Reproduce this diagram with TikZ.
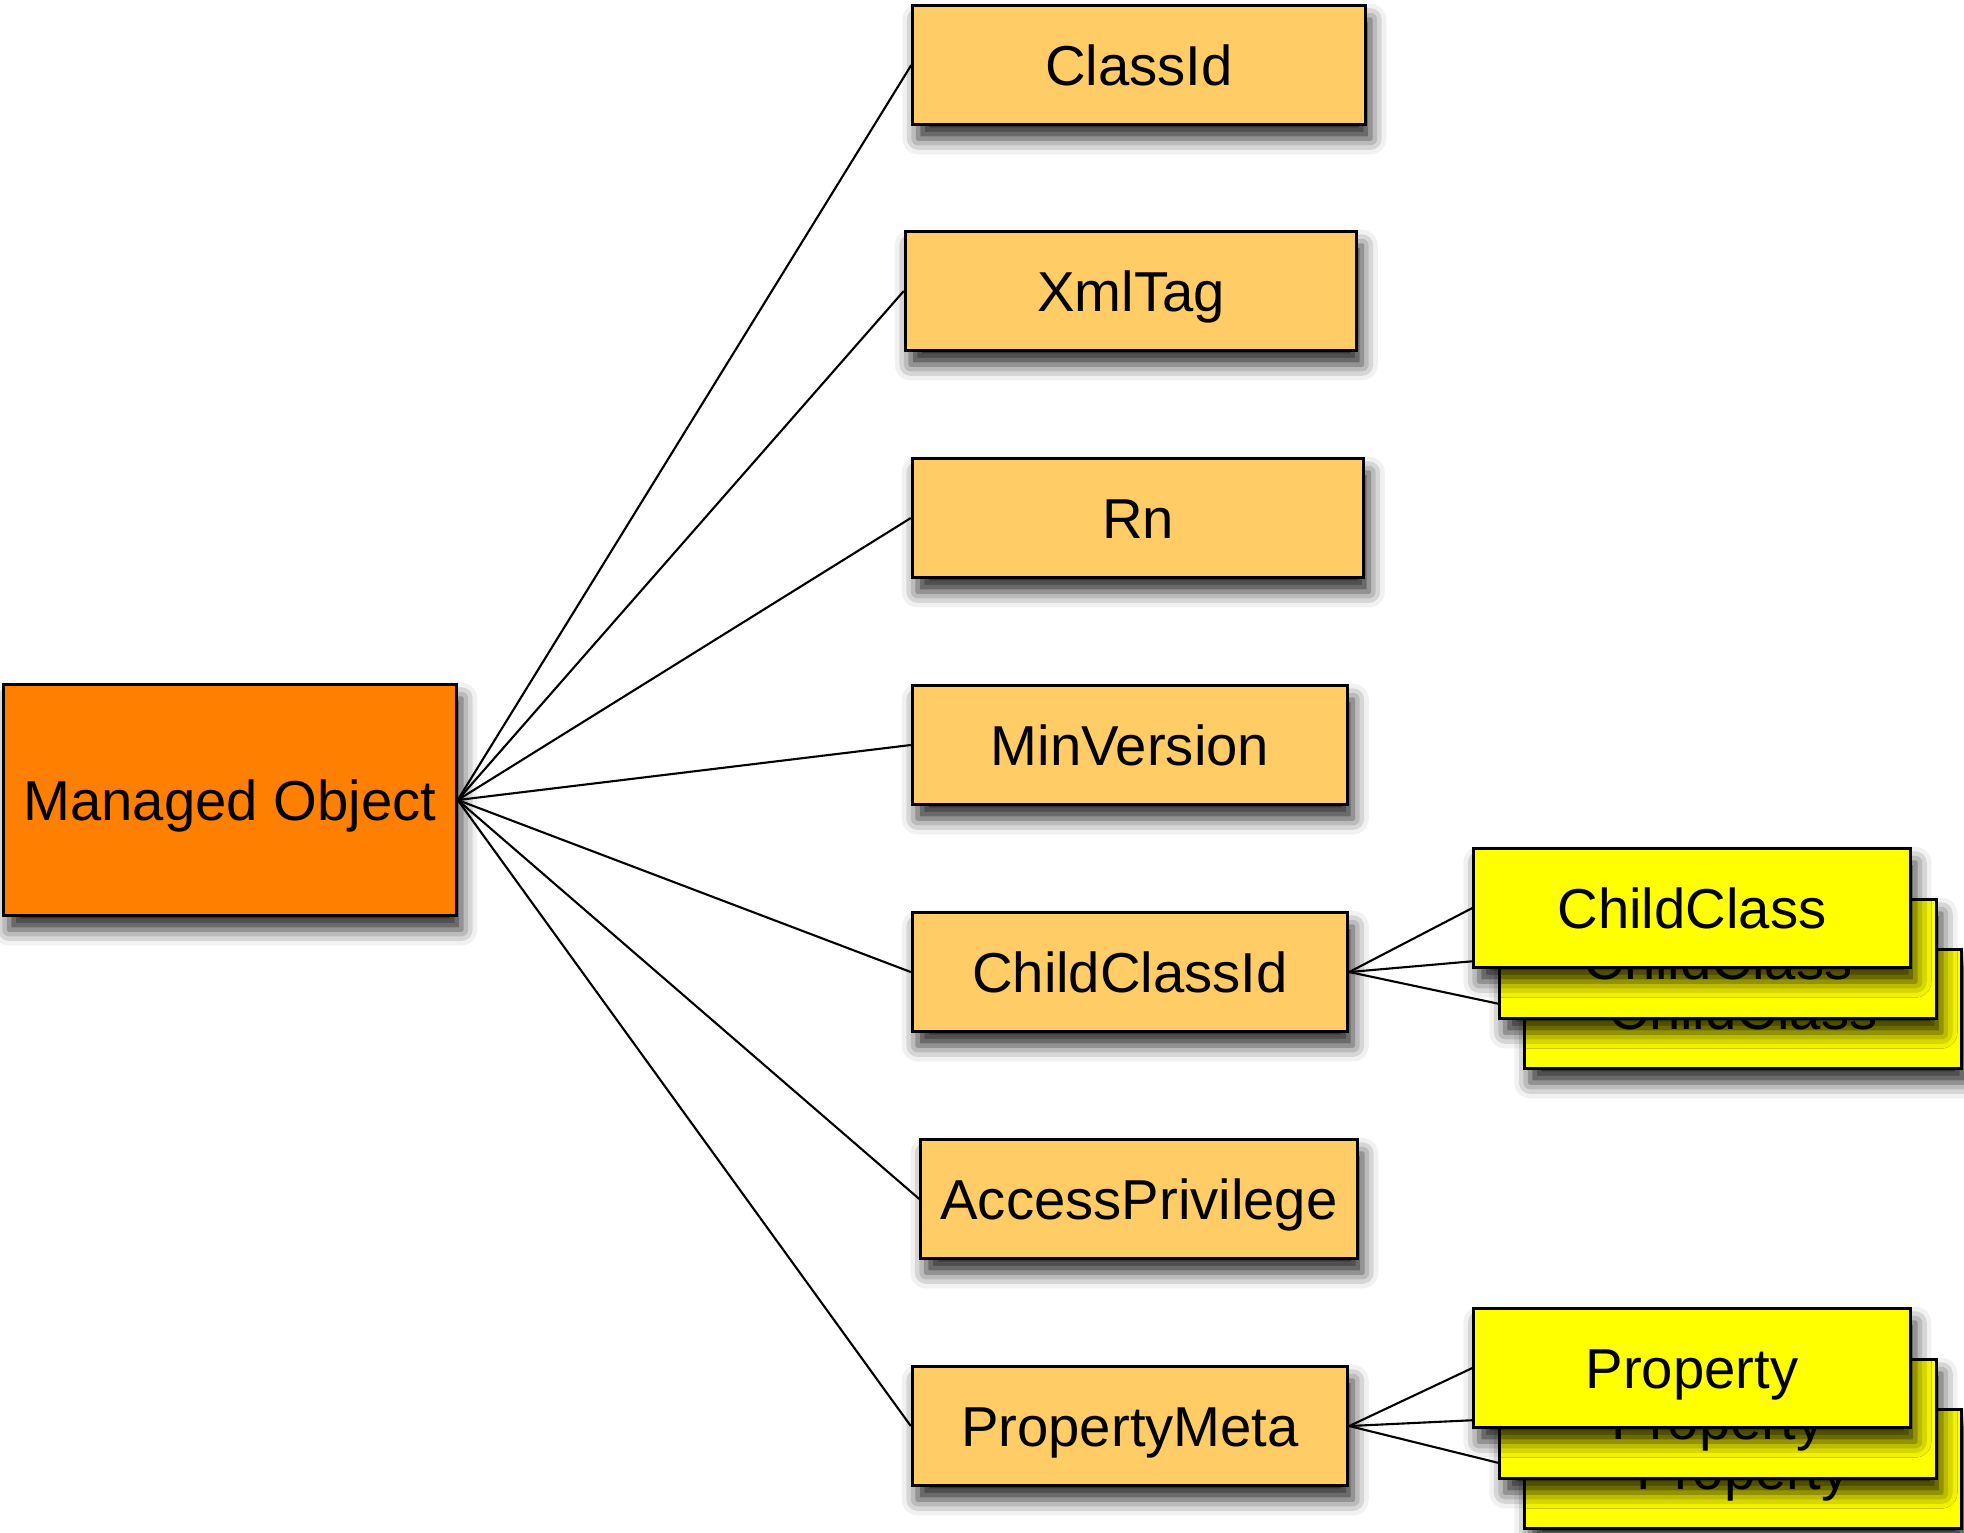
\documentclass[tikz,border=0pt]{standalone}
\usepackage{fontspec}
\setmainfont{Liberation Sans}
\usetikzlibrary{positioning, shadows.blur, backgrounds}

\definecolor{rootorange}{RGB}{255,128,0}
\definecolor{attrorange}{RGB}{255,204,102}
\definecolor{itemyellow}{RGB}{255,255,0}

\begin{document}
\begin{tikzpicture}[
    x=0.01cm, y=-0.01cm,
    box/.style={rectangle, draw=black, line width=0.9pt, inner sep=0pt,
        font=\fontsize{16}{19}\selectfont, text height=11.7pt, text depth=0pt,
        blur shadow={shadow xshift=1.5pt, shadow yshift=-4pt,
            shadow blur radius=4.5pt, shadow opacity=85}},
    rootnode/.style={box, fill=rootorange, minimum width=4.52cm, minimum height=2.31cm},
    attrnode/.style={box, fill=attrorange, minimum height=1.19cm},
    itemnode/.style={box, fill=itemyellow, minimum width=4.36cm, minimum height=1.19cm},
    link/.style={line width=0.6pt}
]
\useasboundingbox (0,0) rectangle (1964,1532);

\node[rootnode](mo) at (230, 800) {Managed Object};

\node[attrnode, minimum width=4.52cm](classid) at (1139, 65) {ClassId};
\node[attrnode, minimum width=4.51cm](xmltag) at (1131, 291) {XmlTag};
\node[attrnode, minimum width=4.51cm](rn) at (1138, 518) {Rn};
\node[attrnode, minimum width=4.35cm](minver) at (1130, 745) {MinVersion};
\node[attrnode, minimum width=4.35cm](childid) at (1130, 972) {ChildClassId};
\node[attrnode, minimum width=4.36cm](access) at (1139, 1199) {AccessPrivilege};
\node[attrnode, minimum width=4.35cm](propmeta) at (1130, 1426) {PropertyMeta};

% stacked children, back to front
\node[itemnode](child_3) at (1743, 1009) {ChildClass};
\node[itemnode](child_2) at (1718, 959) {ChildClass};
\node[itemnode](child_1) at (1692, 908) {ChildClass};

\node[itemnode](prop_3) at (1743, 1469) {Property};
\node[itemnode](prop_2) at (1718, 1419) {Property};
\node[itemnode](prop_1) at (1692, 1368) {Property};

\begin{pgfonlayer}{background}
\foreach \n in {classid, xmltag, rn, minver, childid, access, propmeta}
    \draw[link] (mo.east) -- (\n.west);
\foreach \i in {1,2,3}{
    \draw[link] (childid.east) -- (child_\i.west);
    \draw[link] (propmeta.east) -- (prop_\i.west);
}
\end{pgfonlayer}
\end{tikzpicture}
\end{document}
